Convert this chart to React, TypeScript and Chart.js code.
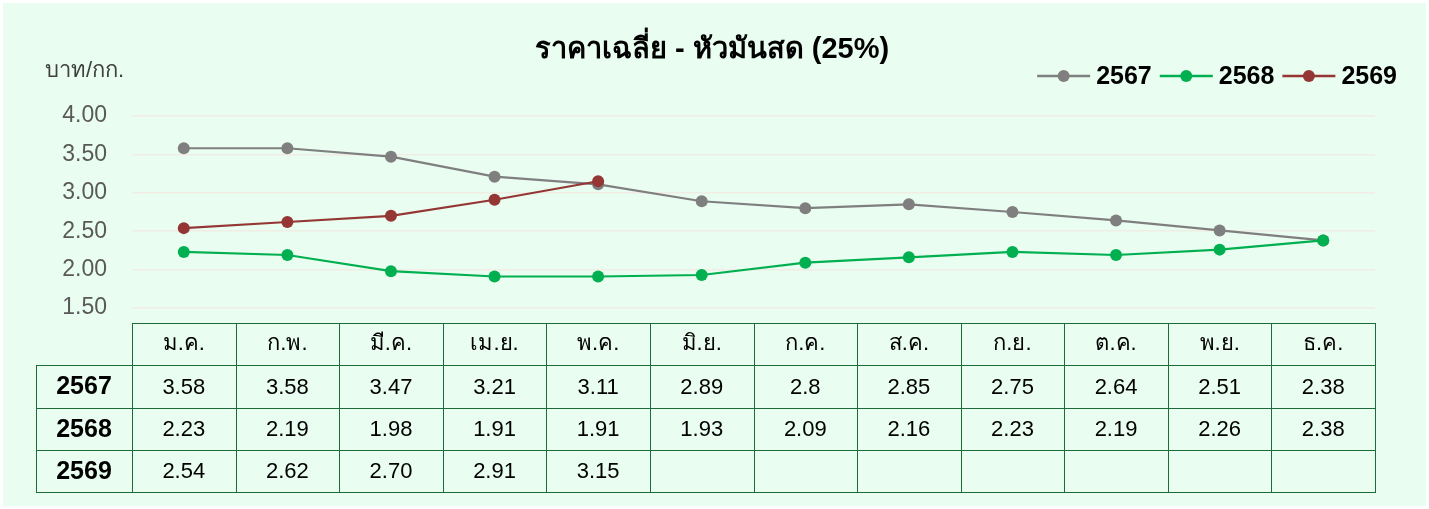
import React, { useEffect, useRef } from "react";
import { Chart, registerables } from "chart.js";

Chart.register(...registerables);

const title = "ราคาเฉลี่ย - หัวมันสด (25%)";
const unitLabel = "บาท/กก.";
const months = ["ม.ค.", "ก.พ.", "มี.ค.", "เม.ย.", "พ.ค.", "มิ.ย.", "ก.ค.", "ส.ค.", "ก.ย.", "ต.ค.", "พ.ย.", "ธ.ค."];
const years = ["2567", "2568", "2569"];
const values2567: (number | null)[] = [3.58, 3.58, 3.47, 3.21, 3.11, 2.89, 2.8, 2.85, 2.75, 2.64, 2.51, 2.38];
const values2568: (number | null)[] = [2.23, 2.19, 1.98, 1.91, 1.91, 1.93, 2.09, 2.16, 2.23, 2.19, 2.26, 2.38];
const values2569: (number | null)[] = [2.54, 2.62, 2.7, 2.91, 3.15, null, null, null, null, null, null, null];
const seriesColors = ["#7F7F7F", "#00B050", "#943634"];
const yMin = 1.5;
const yMax = 4.0;
const yStep = 0.5;

const FONT = 'Arial, "Liberation Sans", "Noto Sans", sans-serif';
const W = 1429;
const H = 509;
const BG = "#EAFDF1";

const seriesValues = [values2567, values2568, values2569];

function fmt(v: number | null, row: number): string {
  if (v === null || v === undefined) return "";
  return row === 2 ? v.toFixed(2) : String(v);
}

const decorPlugin = {
  id: "decor",
  beforeDraw(chart: any) {
    const ctx = chart.ctx;
    ctx.save();
    ctx.fillStyle = "#FFFFFF";
    ctx.fillRect(0, 0, W, H);
    ctx.fillStyle = BG;
    ctx.fillRect(3, 3, W - 6, H - 6);
    ctx.restore();
  },
  afterDraw(chart: any) {
    const ctx = chart.ctx;
    const xs = chart.scales.x;
    const area = chart.chartArea;
    ctx.save();
    // title
    ctx.fillStyle = "#000000";
    ctx.font = `bold 29px ${FONT}`;
    ctx.textAlign = "center";
    ctx.textBaseline = "middle";
    ctx.fillText(title, 712, 50);
    // unit label
    ctx.fillStyle = "#404040";
    ctx.font = `22px ${FONT}`;
    ctx.textAlign = "left";
    ctx.fillText(unitLabel, 45, 71);

    // legend
    ctx.font = `bold 25px ${FONT}`;
    const lineLen = 53;
    const gapA = 6;
    const gapB = 8;
    const widths = years.map((y) => ctx.measureText(y).width);
    const total = widths.reduce((a, b) => a + b, 0) + years.length * (lineLen + gapA) + (years.length - 1) * gapB;
    let lx = 1397 - total;
    const ly = 76;
    years.forEach((y, i) => {
      ctx.strokeStyle = seriesColors[i];
      ctx.lineWidth = 2.5;
      ctx.beginPath();
      ctx.moveTo(lx, ly);
      ctx.lineTo(lx + lineLen, ly);
      ctx.stroke();
      ctx.fillStyle = seriesColors[i];
      ctx.beginPath();
      ctx.arc(lx + lineLen / 2, ly, 6, 0, Math.PI * 2);
      ctx.fill();
      lx += lineLen + gapA;
      ctx.fillStyle = "#000000";
      ctx.textAlign = "left";
      ctx.fillText(y, lx, ly + 1);
      lx += widths[i] + gapB;
    });

    // data table
    const colW = (area.right - area.left) / months.length;
    const top = 323;
    const rowH = 42.3;
    const labelLeft = 36;
    const left = area.left;
    const right = area.right;
    const bottom = top + rowH * (years.length + 1);
    ctx.strokeStyle = "#1C6B38";
    ctx.lineWidth = 1;
    const hl = (x1: number, x2: number, y: number) => {
      const yy = Math.round(y) + 0.5;
      ctx.beginPath();
      ctx.moveTo(x1, yy);
      ctx.lineTo(x2, yy);
      ctx.stroke();
    };
    const vl = (x: number, y1: number, y2: number) => {
      const xx = Math.round(x) + 0.5;
      ctx.beginPath();
      ctx.moveTo(xx, y1);
      ctx.lineTo(xx, y2);
      ctx.stroke();
    };
    hl(left, right + 1, top);
    for (let r = 1; r <= years.length + 1; r++) hl(labelLeft, right + 1, top + rowH * r);
    vl(labelLeft, Math.round(top + rowH), Math.round(bottom) + 1);
    for (let c = 0; c <= months.length; c++) vl(left + colW * c, top, Math.round(bottom) + 1);

    ctx.textAlign = "center";
    ctx.textBaseline = "middle";
    ctx.fillStyle = "#000000";
    ctx.font = `22px ${FONT}`;
    months.forEach((m, i) => {
      ctx.fillText(m, xs.getPixelForValue(i), top + rowH / 2);
    });
    years.forEach((y, r) => {
      const cy = top + rowH * (r + 1) + rowH / 2 + 1;
      ctx.font = `bold 25px ${FONT}`;
      ctx.fillText(y, (labelLeft + left) / 2, cy);
      ctx.font = `22px ${FONT}`;
      seriesValues[r].forEach((v, i) => {
        const t = fmt(v, r);
        if (t) ctx.fillText(t, xs.getPixelForValue(i), cy);
      });
    });
    ctx.restore();
  },
};

export default function App() {
  const ref = useRef<HTMLCanvasElement | null>(null);
  useEffect(() => {
    if (!ref.current) return;
    const chart = new Chart(ref.current, {
      type: "line",
      data: {
        labels: months,
        datasets: years.map((y, i) => ({
          label: y,
          data: seriesValues[i],
          borderColor: seriesColors[i],
          backgroundColor: seriesColors[i],
          pointBackgroundColor: seriesColors[i],
          pointBorderColor: seriesColors[i],
          pointBorderWidth: 0,
          pointRadius: 6,
          borderWidth: 2.2,
          tension: 0,
          spanGaps: false,
          order: [2, 1, 0][i],
        })),
      },
      options: {
        responsive: false,
        animation: false,
        events: [],
        layout: { padding: { left: 0, top: 116, right: W - 1375, bottom: H - 308 } },
        plugins: {
          legend: { display: false },
          title: { display: false },
          tooltip: { enabled: false },
        },
        scales: {
          x: {
            type: "category",
            offset: true,
            display: false,
          },
          y: {
            min: yMin,
            max: yMax,
            border: { display: false },
            grid: { color: "#EFEDE4", lineWidth: 1.5, drawTicks: false },
            ticks: {
              stepSize: yStep,
              padding: 25,
              color: "#595959",
              font: { size: 23, family: FONT },
              callback: (v: any) => Number(v).toFixed(2),
            },
            afterFit: (scale: any) => {
              scale.width = 132;
            },
          },
        },
      },
      plugins: [decorPlugin],
    });
    return () => chart.destroy();
  }, []);
  return (
    <div style={{ position: "fixed", left: 0, top: 0, width: W, height: H }}>
      <canvas ref={ref} width={W} height={H} style={{ width: W, height: H, display: "block" }} />
    </div>
  );
}
